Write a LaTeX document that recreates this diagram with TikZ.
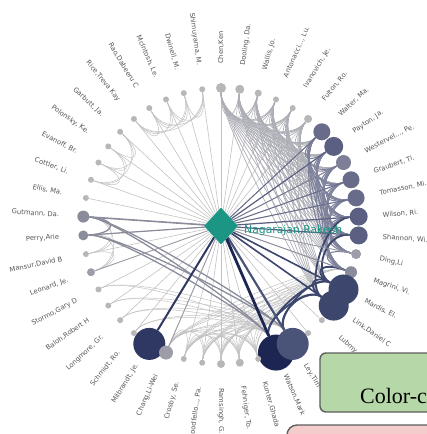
\documentclass[tikz,border=0pt]{standalone}
\usepackage{fontspec}
\newfontfamily\namefont{DejaVu Sans}
\newfontfamily\notefont{Liberation Serif}
\usetikzlibrary{shapes.geometric,calc,backgrounds}

\definecolor{dotgrey}{HTML}{B7B7B7}
\definecolor{spokegrey}{HTML}{C2C2C2}
\definecolor{meshgrey}{HTML}{ADAEB6}
\definecolor{midgrey}{HTML}{9C9DA8}
\definecolor{greyblue}{HTML}{8A8C9B}
\definecolor{slatelt}{HTML}{7C7F96}
\definecolor{slate}{HTML}{686C8A}
\definecolor{slatedk}{HTML}{5B5F81}
\definecolor{navylt}{HTML}{4A5478}
\definecolor{navy}{HTML}{3D476D}
\definecolor{navymb}{HTML}{2E3862}
\definecolor{navydk}{HTML}{1D2552}
\definecolor{hubteal}{HTML}{1B9685}
\definecolor{namegrey}{HTML}{555555}
\definecolor{notegreen}{HTML}{B6D7A8}
\definecolor{notepink}{HTML}{F4CCCC}
\definecolor{noteedge}{HTML}{5E5E5E}

\tikzset{
  person/.style={circle,inner sep=0pt,draw=none},
  who/.style={font=\namefont\fontsize{6.8}{8}\selectfont,text=namegrey,inner sep=0pt},
  hubtext/.style={anchor=west,inner sep=0pt,font=\namefont\fontsize{10.8}{12}\selectfont},
  spoke/.style={draw=spokegrey,line width=0.6pt},
  tie/.style={draw=spokegrey,line width=0.5pt,
    to path={.. controls ($(hub)!0.75!(\tikztostart)$) and ($(hub)!0.75!(\tikztotarget)$) .. (\tikztotarget)}},
  meshedge/.style={draw=meshgrey,line width=0.7pt},
  slateedge/.style={draw=slate!85!white,line width=1.1pt},
  navyedge/.style={draw=navy,line width=1.8pt},
  greyedge/.style={draw=greyblue,line width=1.3pt},
  noteline/.style={draw=noteedge,line width=1.4pt},
}

\begin{document}
\begin{tikzpicture}[x=1pt,y=1pt]
\useasboundingbox (-221,-208) rectangle (206,226);
\clip (-221,-208) rectangle (206,226);

% authors round the circle
\foreach \k/\d/\c in {0/10/dotgrey,1/9/dotgrey,2/7/dotgrey,3/6/dotgrey,4/6/dotgrey,5/8/dotgrey,
    6/17/slate,7/19/slatedk,8/15/slatelt,9/17/slate,10/17/slate,11/18/slatedk,12/18/slatedk,
    13/10/midgrey,14/12/greyblue,16/30/navy,15/30/navy,17/6/dotgrey,18/6/dotgrey,
    20/36/navydk,19/32/navylt,21/6/dotgrey,22/8/dotgrey,23/8/dotgrey,24/6/dotgrey,25/6/dotgrey,
    27/32/navymb,26/14/midgrey,28/6/dotgrey,29/6/dotgrey,30/6/dotgrey,31/6/dotgrey,
    32/8/midgrey,33/6/dotgrey,34/10/greyblue,35/12/greyblue,36/6/dotgrey,37/6/dotgrey,
    38/6/dotgrey,39/6/dotgrey,40/6/dotgrey,41/6/dotgrey,42/6/dotgrey,43/6/dotgrey,
    44/6/dotgrey,45/6/dotgrey}
  \node[person,fill=\c,minimum size=\d pt] (p\k) at ({90-\k*7.826087}:138) {};

% names
\foreach \k/\t in {0/{Chen,Ken},1/{Dooling, Da.},2/{Wallis, Jo.},3/{Antonacci..., Lu.},
    4/{Ivanovich, Je.},5/{Fulton, Ro.},6/{Walter, Ma.},7/{Payton, Ja.},8/{Westervel..., Pe.},
    9/{Graubert, Ti.},10/{Tomasson, Mi.},11/{Wilson, Ri.},12/{Shannon, Wi.},13/{Ding,Li},
    14/{Magrini, Vi.},15/{Mardis, El.},16/{Link,Daniel C},17/{Lubmy},19/{Ley,Tim},
    20/{Watson,Mark},21/{Kunter,Ghada},22/{Fehniger, To.},23/{Ramsingh, G.},
    24/{Goodfello..., Pa.},25/{Crosby, Se.},26/{Chang,Li-Wei},27/{Milbrandt, Je.},
    28/{Schmidt, Ro.},29/{Longmore, Gr.},30/{Baloh,Robert H},31/{Stormo,Gary D},
    32/{Leonard, Je.},33/{Mansur,David B},34/{Perry,Arie},35/{Gutmann, Da.},36/{Ellis, Ma.},
    37/{Cottler, Li.},38/{Evanoff, Br.},39/{Polonsky, Ke.},40/{Garbutt, Ja.},
    41/{Rice,Treva Kay},42/{Rao,Dabeeru C},43/{McIntosh, Le.},44/{Dwinell, M.},
    45/{Shimuyama, M.}}{
  \pgfmathsetmacro\a{90-\k*7.826087}
  \ifnum\k<24
    \node[who,anchor=west,rotate=\a] (w\k) at (\a:162) {\t};
  \else
    \node[who,anchor=east,rotate=\a+180] (w\k) at (\a:162) {\t};
  \fi
}

\node[diamond,fill=hubteal,inner sep=0pt,minimum width=34pt,minimum height=37pt] (hub) at (0,0) {};
\node[hubtext,text=hubteal] (hubname) at (23,-5) {Nagarajan,Rakesh};

\begin{scope}[on background layer]
% spokes to the hub
\foreach \k in {0,...,45} \draw[spoke] (hub) -- (p\k);
% co-author ties
\foreach \i in {41,...,44}{
  \pgfmathtruncatemacro\n{\i+1}
  \foreach \j in {\n,...,45} \draw[tie] (p\i) to (p\j);
}
\foreach \i in {37,...,39}{
  \pgfmathtruncatemacro\n{\i+1}
  \foreach \j in {\n,...,40} \draw[tie] (p\i) to (p\j);
}
\foreach \i in {32,...,34}{
  \pgfmathtruncatemacro\n{\i+1}
  \foreach \j in {\n,...,35} \draw[tie] (p\i) to (p\j);
}
\foreach \i in {21,...,25}{
  \pgfmathtruncatemacro\n{\i+1}
  \foreach \j in {\n,...,26} \draw[tie] (p\i) to (p\j);
}
\foreach \i in {0,...,4}{
  \pgfmathtruncatemacro\n{\i+1}
  \foreach \j in {\n,...,5} \draw[tie,meshedge] (p\i) to (p\j);
}
\foreach \i in {0,...,5}
  \foreach \j in {6,...,16} \draw[tie,meshedge] (p\i) to (p\j);
\foreach \i in {21,...,26}
  \foreach \j in {14,15,16,19,20} \draw[tie] (p\i) to (p\j);
\foreach \i in {28,...,31}
  \foreach \j in {19,20} \draw[tie] (p\i) to (p\j);
\foreach \i in {6,...,13}{
  \pgfmathtruncatemacro\n{\i+1}
  \foreach \j in {\n,...,14} \draw[tie,slateedge] (p\i) to (p\j);
}
\foreach \i/\j in {35/34,35/20,35/19,34/20,34/19} \draw[tie,greyedge] (p\i) to (p\j);
\foreach \i/\j in {15/16,15/19,15/20,16/19,16/20,14/15,12/15,11/16} \draw[tie,navyedge] (p\i) to (p\j);
% heavier spokes
\foreach \k/\c/\w in {6/slate/1,7/slatedk/1.2,8/slatelt/1,9/slate/1,10/slate/1,11/slatedk/1.2,
    12/slatedk/1.2,13/midgrey/0.8,14/greyblue/0.9,15/navy/1.6,16/navy/1.6,19/navylt/2.2,
    20/navydk/2.8,26/midgrey/0.9,27/navymb/2,32/midgrey/0.8,34/greyblue/1.2,35/greyblue/1.6}
  \draw[draw=\c,line width=\w pt] (hub) -- (p\k);
\end{scope}

% notes laid over the corner
\draw[noteline,fill=notegreen,rounded corners=6pt] (99,-127) rectangle (280,-186);
\node[anchor=base west,inner sep=0pt,font=\notefont\fontsize{22}{24}\selectfont] (notetitle) at (139,-177) {Color-c};
\draw[noteline,fill=notepink,rounded corners=10pt] (66,-199) rectangle (280,-260);
\end{tikzpicture}
\end{document}
